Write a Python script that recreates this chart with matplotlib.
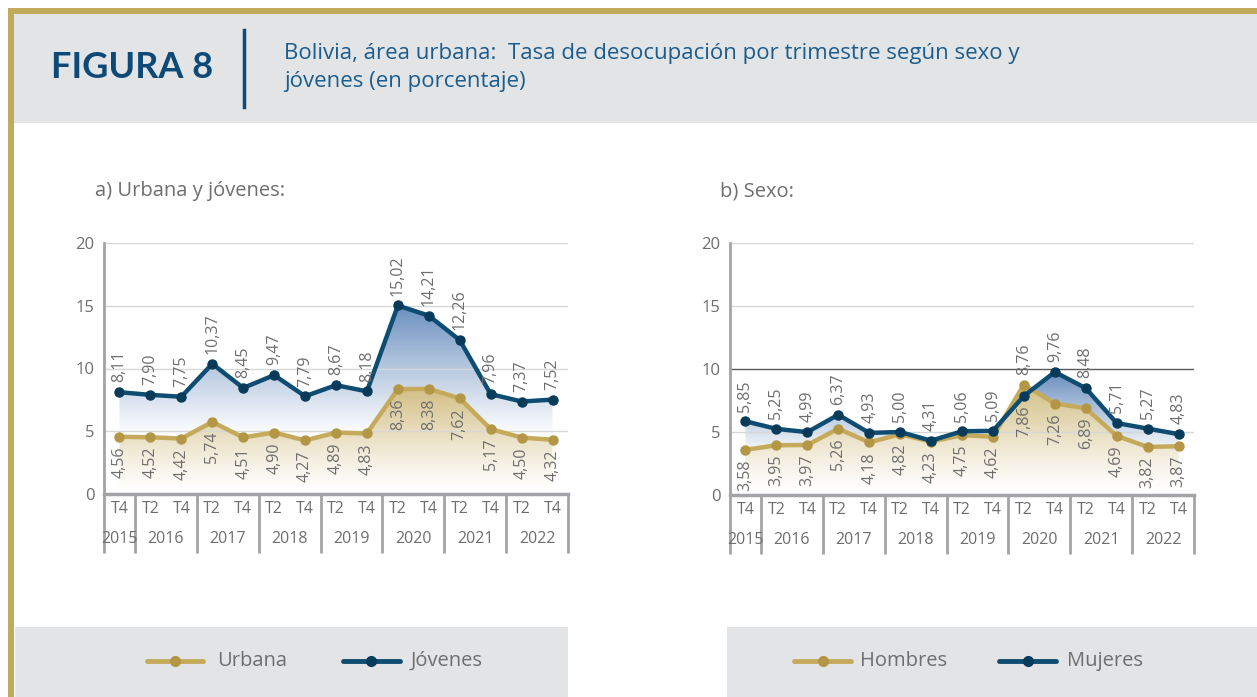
import numpy as np
import matplotlib
matplotlib.use("Agg")
import matplotlib.pyplot as plt
import matplotlib.colors as mcolors
from matplotlib.patches import Rectangle, PathPatch
from matplotlib.lines import Line2D

plt.rcParams['font.family'] = ['Open Sans', 'DejaVu Sans']

W, H = 1257, 697

quarters = ["T4", "T2", "T4", "T2", "T4", "T2", "T4", "T2", "T4",
            "T2", "T4", "T2", "T4", "T2", "T4"]
years = ["2015", "2016", "2017", "2018", "2019", "2020", "2021", "2022"]

urbana = [4.56, 4.52, 4.42, 5.74, 4.51, 4.90, 4.27, 4.89, 4.83,
          8.36, 8.38, 7.62, 5.17, 4.50, 4.32]
jovenes = [8.11, 7.90, 7.75, 10.37, 8.45, 9.47, 7.79, 8.67, 8.18,
           15.02, 14.21, 12.26, 7.96, 7.37, 7.52]

hombres = [3.58, 3.95, 3.97, 5.26, 4.18, 4.82, 4.23, 4.75, 4.62,
           8.76, 7.26, 6.89, 4.69, 3.82, 3.87]
mujeres = [5.85, 5.25, 4.99, 6.37, 4.93, 5.00, 4.31, 5.06, 5.09,
           7.86, 9.76, 8.48, 5.71, 5.27, 4.83]

GOLD = "#c4aa5a"
GOLD_DARK = "#b39747"
BLUE = "#0e4c72"
BLUE_DARK = "#083a59"
GRAY_TXT = "#6e6e6e"
GRAY_AX = "#a3a4a7"
PANEL = "#e3e4e6"


def fx(px):
    return px / W


def fy(py):
    return 1 - py / H


def gradient_fill(ax, x, y, color, lo_frac, zorder):
    ymax = max(y)
    poly = ax.fill_between(x, y, 0, facecolor="none", edgecolor="none")
    clip = PathPatch(poly.get_paths()[0], transform=ax.transData,
                     facecolor="none", edgecolor="none")
    ax.add_patch(clip)
    t = np.linspace(0, 1, 256)
    a = np.clip((t - lo_frac) / (1 - lo_frac), 0, 1) ** 1.1
    rgb = np.array(mcolors.to_rgb(color))
    img = 1 - a[:, None] * (1 - rgb[None, :])
    im = ax.imshow(img[:, None, :], extent=[x[0], x[-1], 0, ymax],
                   origin="lower", aspect="auto", zorder=zorder)
    im.set_clip_path(clip)


def draw_panel(ax, low, high, dark_ten=False):
    x = np.arange(len(low))
    gradient_fill(ax, x, high, "#6a8fbf", 0.3, 0.5)
    gradient_fill(ax, x, low, "#d3bf85", 0.05, 0.6)

    for g in [5, 10, 15, 20]:
        c = "#5a5a5a" if (dark_ten and g == 10) else "#d6d7d9"
        ax.axhline(g, color=c, lw=1.0, zorder=1)

    ax.plot(x, low, color=GOLD, lw=3.2, marker="o", ms=6.5,
            mfc=GOLD_DARK, mec=GOLD_DARK, zorder=3, solid_joinstyle="round")
    ax.plot(x, high, color=BLUE, lw=3.2, marker="o", ms=6.5,
            mfc=BLUE_DARK, mec=BLUE_DARK, zorder=4, solid_joinstyle="round")

    for i in x:
        a, b = low[i], high[i]
        top, bot = (b, a) if b >= a else (a, b)
        ax.annotate(f"{top:.2f}".replace(".", ","), (i, top), xytext=(0, 7),
                    textcoords="offset points", rotation=90, ha="center",
                    va="bottom", fontsize=11.5, color=GRAY_TXT, zorder=5)
        ax.annotate(f"{bot:.2f}".replace(".", ","), (i, bot), xytext=(0, -7),
                    textcoords="offset points", rotation=90, ha="center",
                    va="top", fontsize=11.5, color=GRAY_TXT, zorder=5)

    ax.set_xlim(-0.5, len(low) - 0.5)
    ax.set_ylim(0, 20)
    ax.set_yticks([0, 5, 10, 15, 20])
    ax.set_xticks([])
    ax.tick_params(axis="y", length=0, pad=7, labelsize=12, labelcolor=GRAY_TXT)
    for s in ["top", "right"]:
        ax.spines[s].set_visible(False)
    ax.spines["left"].set_color(GRAY_AX)
    ax.spines["left"].set_linewidth(2)
    ax.spines["bottom"].set_color(GRAY_AX)
    ax.spines["bottom"].set_linewidth(2.5)

    # category table under the axis
    tr = ax.get_xaxis_transform()
    for i, q in enumerate(quarters):
        ax.text(i, -0.058, q, transform=tr, ha="center", va="center",
                fontsize=11.5, color=GRAY_TXT)
    bounds = [-0.5, 0.5, 2.5, 4.5, 6.5, 8.5, 10.5, 12.5, 14.5]
    for k, yr in enumerate(years):
        ax.text((bounds[k] + bounds[k + 1]) / 2, -0.178, yr,
                transform=tr, ha="center", va="center", fontsize=11.5,
                color=GRAY_TXT)
    for b in bounds:
        ax.plot([b, b], [0, -0.235], transform=tr, color=GRAY_AX, lw=2,
                clip_on=False, solid_capstyle="butt")


if __name__ == "__main__":
    fig = plt.figure(figsize=(W / 100, H / 100), dpi=100)

    # frame and panels
    fig.add_artist(Rectangle((fx(14), fy(123)), 1, fy(14) - fy(123),
                             transform=fig.transFigure, color=PANEL, lw=0))
    fig.add_artist(Rectangle((fx(8), fy(14)), 1, fy(8) - fy(14),
                             transform=fig.transFigure, color="#c2aa5c", lw=0))
    fig.add_artist(Rectangle((fx(8), 0), fx(14) - fx(8), fy(8),
                             transform=fig.transFigure, color="#c2aa5c", lw=0))
    fig.add_artist(Rectangle((fx(15), 0), fx(568) - fx(15), fy(627),
                             transform=fig.transFigure, color=PANEL, lw=0))
    fig.add_artist(Rectangle((fx(727), 0), 1, fy(627),
                             transform=fig.transFigure, color=PANEL, lw=0))

    # header
    fig.text(fx(132), fy(68), "FIGURA 8", ha="center", va="center",
             fontsize=26, fontweight="bold", color="#0d4a78", family="Lato")
    fig.add_artist(Line2D([fx(244), fx(244)], [fy(30), fy(107)],
                          transform=fig.transFigure, color="#0d4a78", lw=2.5))
    fig.text(fx(284), fy(53), "Bolivia, área urbana:  Tasa de desocupación por "
             "trimestre según sexo y", va="center", fontsize=16, color="#1b5d8f")
    fig.text(fx(284), fy(81), "jóvenes (en porcentaje)", va="center",
             fontsize=16, color="#1b5d8f")

    fig.text(fx(95), fy(191), "a) Urbana y jóvenes:", va="center",
             fontsize=14.5, color=GRAY_TXT)
    fig.text(fx(720), fy(191), "b) Sexo:", va="center", fontsize=14.5,
             color=GRAY_TXT)

    ax1 = fig.add_axes([fx(104), fy(494), fx(568) - fx(104), fy(243) - fy(494)])
    ax1.set_facecolor("none")
    draw_panel(ax1, urbana, jovenes)

    ax2 = fig.add_axes([fx(730), fy(495), fx(1194) - fx(730), fy(243) - fy(495)])
    ax2.set_facecolor("none")
    draw_panel(ax2, hombres, mujeres, dark_ten=True)

    # legends
    items = [(147, 203, 217, GOLD, GOLD_DARK, "Urbana"),
             (343, 400, 411, BLUE, BLUE_DARK, "Jóvenes"),
             (794, 851, 860, GOLD, GOLD_DARK, "Hombres"),
             (999, 1056, 1067, BLUE, BLUE_DARK, "Mujeres")]
    for x0, x1, xt, c, cm, lab in items:
        fig.add_artist(Line2D([fx(x0), fx(x1)], [fy(661), fy(661)],
                              transform=fig.transFigure, color=c, lw=3.5,
                              solid_capstyle="round"))
        fig.add_artist(Line2D([fx((x0 + x1) / 2)], [fy(661)],
                              transform=fig.transFigure, marker="o", ms=7,
                              color=cm, lw=0))
        fig.text(fx(xt), fy(661), lab, va="center", fontsize=14.5,
                 color=GRAY_TXT)

    fig.savefig("out.png", dpi=100)
